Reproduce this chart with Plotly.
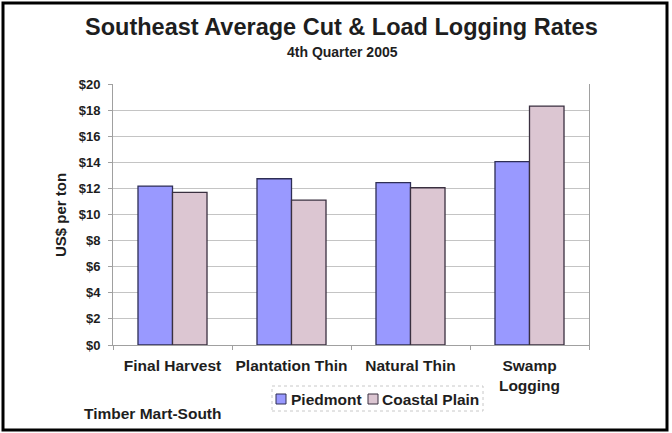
import plotly.graph_objects as go

categories = ["Final Harvest", "Plantation Thin", "Natural Thin", "Swamp<br>Logging"]
series_names = ["Piedmont", "Coastal Plain"]
piedmont = [12.18, 12.74, 12.44, 14.05]
coastal_plain = [11.70, 11.10, 12.05, 18.31]
y_ticks = list(range(0, 21, 2))
y_tick_labels = [f"${v}" for v in y_ticks]

FONT = "Liberation Sans, Arial, sans-serif"
TXT = "#1E1E1E"
W, H = 672, 433
L, R, T, B = 113, 83, 84, 88
pw, ph = W - L - R, H - T - B

def px(x):
    return (x - L) / pw

def py(y):
    return (H - B - y) / ph

fills = ["#9999FF", "#DCC6D2"]
edges = ["#2E2E55", "#3A3040"]

fig = go.Figure()
for name, vals, fc, ec in zip(series_names, [piedmont, coastal_plain], fills, edges):
    fig.add_trace(go.Bar(name=name, x=categories, y=vals, showlegend=False,
                         marker=dict(color=fc, line=dict(color=ec, width=1.3))))

fig.update_layout(
    width=W, height=H,
    margin=dict(l=L, r=R, t=T, b=B, pad=0),
    paper_bgcolor="white", plot_bgcolor="white",
    barmode="group", bargap=0.42, bargroupgap=0,
    font=dict(family=FONT, color=TXT),
    showlegend=False,
    xaxis=dict(showgrid=False, showline=True, linecolor="#A0A0A0", linewidth=1,
               ticks="outside", ticklen=4, tickcolor="#A0A0A0",
               tickson="boundaries", ticklabelstandoff=6, tickangle=0, automargin=False,
               tickprefix="<b>", ticksuffix="</b>",
               tickfont=dict(family=FONT, size=15.5, color=TXT),
               fixedrange=True),
    yaxis=dict(range=[0, 20], tickvals=y_ticks, automargin=False,
               ticktext=[f"<b>{t}</b>" for t in y_tick_labels],
               showgrid=True, gridcolor="#C4C4C4", gridwidth=1,
               showline=True, linecolor="#A0A0A0", linewidth=1, mirror=True,
               ticks="outside", ticklen=4, tickcolor="#A0A0A0", ticklabelstandoff=5,
               tickfont=dict(family=FONT, size=13, color=TXT),
               zeroline=False, fixedrange=True),
)

def note(text, x, y, size, xanchor="center", angle=0):
    fig.add_annotation(text=text, x=px(x), y=py(y), xref="paper", yref="paper",
                       xanchor=xanchor, yanchor="middle", textangle=angle,
                       showarrow=False, font=dict(family=FONT, size=size, color=TXT))

note("<b>Southeast Average Cut &amp; Load Logging Rates</b>", 341, 27, 23.5)
note("<b>4th Quarter 2005</b>", 342, 52, 14)
note("<b>US$ per ton</b>", 60, 215, 15, angle=-90)
note("<b>Timber Mart-South</b>", 82, 413, 15.5, xanchor="left")

# custom compact legend (Excel style)
fig.add_shape(type="rect", xref="paper", yref="paper",
              x0=px(272), x1=px(483), y0=py(411), y1=py(386),
              line=dict(color="#C8C8C8", width=1, dash="dot"), fillcolor="white", layer="above")
legend_sq_x = [276, 368]
legend_txt_x = [289, 380]
for name, fc, ec, sx, tx in zip(series_names, fills, edges, legend_sq_x, legend_txt_x):
    fig.add_shape(type="rect", xref="paper", yref="paper",
                  x0=px(sx), x1=px(sx + 10), y0=py(404), y1=py(394),
                  line=dict(color=ec, width=1), fillcolor=fc, layer="above")
    note(f"<b>{name}</b>", tx, 399, 15.5, xanchor="left")

# outer frame
fig.add_shape(type="rect", xref="paper", yref="paper",
              x0=px(3), x1=px(667), y0=py(430), y1=py(3),
              line=dict(color="black", width=3), fillcolor="rgba(0,0,0,0)", layer="above")

fig.write_html("out.html")
